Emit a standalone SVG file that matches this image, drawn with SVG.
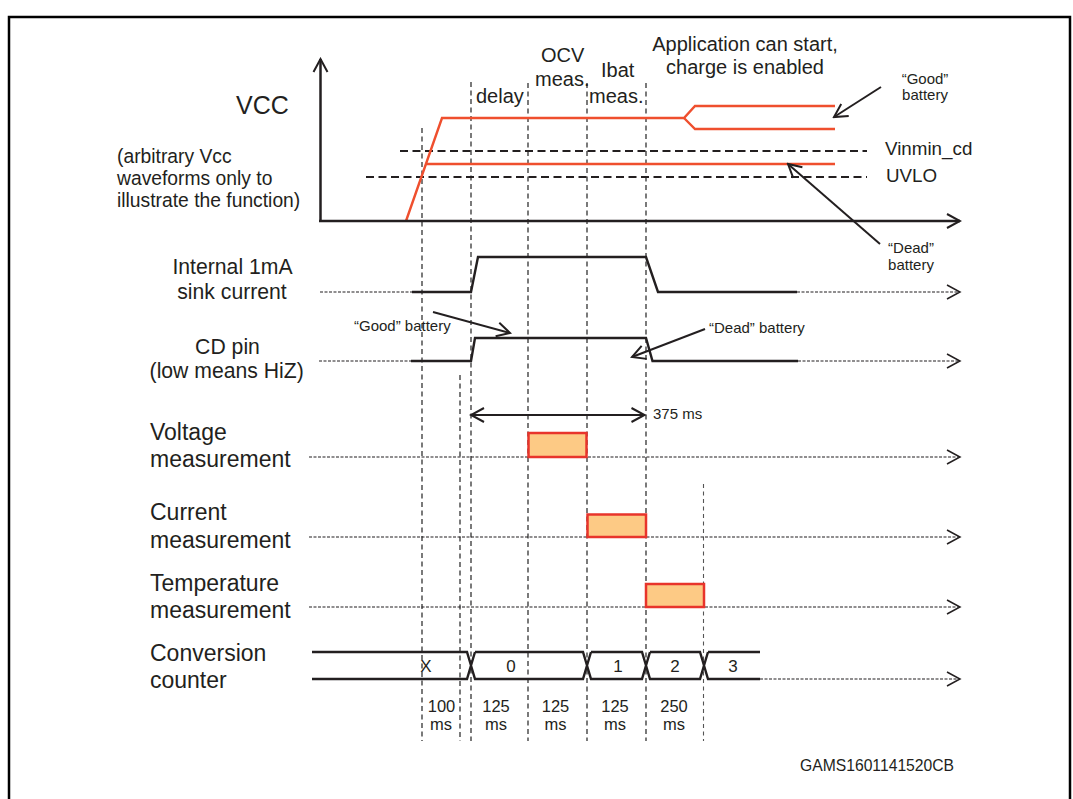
<svg xmlns="http://www.w3.org/2000/svg" width="1073" height="799" viewBox="0 0 1073 799">
<style>
text{font-family:"Liberation Sans",Arial,sans-serif;fill:#231f20}
.t20{font-size:20px}
.t19{font-size:19.3px}
.sm{font-size:15px}
.lbl{font-size:21.2px}
.lbl2{font-size:23px}
.cnt{font-size:17px}
.dur{font-size:16.5px}
.mid{text-anchor:middle}
.wave{fill:none;stroke:#231f20;stroke-width:2.4;stroke-linejoin:miter}
.red{fill:none;stroke:#ef4f2e;stroke-width:2.4}
.thr{fill:none;stroke:#231f20;stroke-width:2;stroke-dasharray:8 4.5}
.tl{fill:none;stroke:#333;stroke-width:1.3;stroke-dasharray:5 3.5}
.tl2{fill:none;stroke:#555;stroke-width:1.1;stroke-dasharray:4 3.5}
.row{fill:none;stroke:#231f20;stroke-width:1.1;stroke-dasharray:3 1.5}
.ann{fill:none;stroke:#231f20;stroke-width:2}
.box{fill:#fdca85;stroke:#e8342b;stroke-width:2.5}
</style>
<defs>
<marker id="ah" viewBox="-16 -9 18 18" refX="0" refY="0" markerWidth="18" markerHeight="18" markerUnits="userSpaceOnUse" orient="auto-start-reverse">
<path d="M-13,-7 L0,0 L-13,7" fill="none" stroke="#231f20" stroke-width="2"/>
</marker>
<marker id="ahs" viewBox="-16 -9 18 18" refX="0" refY="0" markerWidth="18" markerHeight="18" markerUnits="userSpaceOnUse" orient="auto">
<path d="M-13,-7 L0,0 L-13,7" fill="none" stroke="#231f20" stroke-width="1.5"/>
</marker>
</defs>
<rect x="0" y="0" width="1073" height="799" fill="#fff"/>
<rect id="frame" x="9" y="17" width="1061" height="800" fill="none" stroke="#000" stroke-width="2.5"/>

<g id="timelines">
<line class="tl" x1="422" y1="128" x2="422" y2="741"/>
<line class="tl" x1="460" y1="375" x2="460" y2="741"/>
<line class="tl" x1="471" y1="82" x2="471" y2="741"/>
<line class="tl" x1="528" y1="83" x2="528" y2="741"/>
<line class="tl" x1="587" y1="83" x2="587" y2="741"/>
<line class="tl" x1="646" y1="83" x2="646" y2="741"/>
<line class="tl2" x1="703.5" y1="484" x2="703.5" y2="741"/>
</g>

<g id="vcc-chart">
<line class="thr" x1="400" y1="151" x2="867" y2="151"/>
<line class="thr" x1="366" y1="177" x2="867" y2="177"/>
<polyline class="red" points="406,221 442,118 684,118 695,106 835,106"/>
<polyline class="red" points="684,118 695,129 835,129"/>
<polyline class="red" points="426.3,164 835,164"/>
<line stroke="#231f20" stroke-width="2.5" x1="320.5" y1="221" x2="320.5" y2="59" marker-end="url(#ah)"/>
<line stroke="#231f20" stroke-width="2.5" x1="319" y1="221" x2="960" y2="221" marker-end="url(#ah)"/>
</g>

<g id="sink-current">
<line class="row" x1="320" y1="292" x2="412" y2="292"/>
<polyline class="wave" points="412,292 471,292 478,257 646,257 658,292 797,292"/>
<line class="row" x1="797" y1="292" x2="960" y2="292" marker-end="url(#ahs)"/>
</g>

<g id="cd-pin">
<line class="row" x1="319" y1="361" x2="411" y2="361"/>
<polyline class="wave" points="411,361 471,361 475,338 646,338 652.5,361 798,361"/>
<line class="row" x1="798" y1="361" x2="960" y2="361" marker-end="url(#ahs)"/>
</g>

<g id="voltage-meas">
<line class="row" x1="309" y1="457" x2="960" y2="457" marker-end="url(#ahs)"/>
<rect class="box" x="528.5" y="433" width="58" height="24"/>
</g>
<g id="current-meas">
<line class="row" x1="309" y1="537" x2="960" y2="537" marker-end="url(#ahs)"/>
<rect class="box" x="587.5" y="514.5" width="58.5" height="22.5"/>
</g>
<g id="temp-meas">
<line class="row" x1="309" y1="607" x2="960" y2="607" marker-end="url(#ahs)"/>
<rect class="box" x="646" y="584" width="58" height="23"/>
</g>

<g id="conversion-counter">
<path class="wave" d="M312,652 H467 L471,665.5 L467,679 H312 M475,652 L471,665.5 L475,679 H583 L587,665.5 L583,652 H475 M591,652 L587,665.5 L591,679 H642 L646,665.5 L642,652 H591 M650,652 L646,665.5 L650,679 H700 L704,665.5 L700,652 H650 M708,652 L704,665.5 L708,679 H760 M708,652 H760"/>
<line class="row" x1="760" y1="679" x2="960" y2="679" marker-end="url(#ahs)"/>
<text class="cnt mid" x="426" y="672">X</text>
<text class="cnt mid" x="511" y="672">0</text>
<text class="cnt mid" x="618" y="672">1</text>
<text class="cnt mid" x="675" y="672">2</text>
<text class="cnt mid" x="733" y="672">3</text>
</g>

<g id="connectors">
<line class="ann" x1="881" y1="87" x2="834" y2="117" marker-end="url(#ah)"/>
<line class="ann" x1="880" y1="244" x2="788" y2="164" marker-end="url(#ah)"/>
<line class="ann" x1="433" y1="312" x2="510" y2="333" marker-end="url(#ah)"/>
<line class="ann" x1="705" y1="329" x2="632" y2="357" marker-end="url(#ah)"/>
<line class="ann" x1="471" y1="415" x2="644.5" y2="415" marker-start="url(#ah)" marker-end="url(#ah)"/>
</g>

<g id="labels">
<text x="236" y="114" style="font-size:25px">VCC</text>
<text class="t19" x="117" y="163">(arbitrary Vcc</text>
<text class="t19" x="117" y="185">waveforms only to</text>
<text class="t19" x="117" y="207">illustrate the function)</text>
<text class="t20" x="476" y="103">delay</text>
<text class="t20" x="541" y="62">OCV</text>
<text class="t20" x="535" y="86">meas.</text>
<text class="t20" x="601" y="77">Ibat</text>
<text class="t20" x="589" y="103">meas.</text>
<text class="t20 mid" x="745" y="51">Application can start,</text>
<text class="t20 mid" x="745" y="74">charge is enabled</text>
<text x="885" y="155" style="font-size:18.8px">Vinmin_cd</text>
<text x="886" y="182" style="font-size:18.8px">UVLO</text>
<text class="sm mid" x="925" y="84">“Good”</text>
<text class="sm mid" x="925" y="100">battery</text>
<text class="sm mid" x="911" y="253">“Dead”</text>
<text class="sm mid" x="911" y="270">battery</text>
<text class="sm" x="354" y="331">“Good” battery</text>
<text class="sm" x="709" y="333">“Dead” battery</text>
<text class="sm" x="653" y="419">375 ms</text>
<text class="lbl mid" x="232.5" y="274">Internal 1mA</text>
<text class="lbl mid" x="232" y="298.5">sink current</text>
<text class="lbl mid" x="227.5" y="354">CD pin</text>
<text class="lbl mid" x="226.7" y="378">(low means HiZ)</text>
<text class="lbl2" x="150" y="440">Voltage</text>
<text class="lbl2" x="150" y="467">measurement</text>
<text class="lbl2" x="150" y="520">Current</text>
<text class="lbl2" x="150" y="548">measurement</text>
<text class="lbl2" x="150" y="591">Temperature</text>
<text class="lbl2" x="150" y="618">measurement</text>
<text class="lbl2" x="150" y="661">Conversion</text>
<text class="lbl2" x="150" y="688">counter</text>
<text class="dur mid" x="441.5" y="712">100</text>
<text class="dur mid" x="441" y="729.5">ms</text>
<text class="dur mid" x="496" y="712">125</text>
<text class="dur mid" x="496" y="729.5">ms</text>
<text class="dur mid" x="555.5" y="712">125</text>
<text class="dur mid" x="555.5" y="729.5">ms</text>
<text class="dur mid" x="615" y="712">125</text>
<text class="dur mid" x="615" y="729.5">ms</text>
<text class="dur mid" x="674" y="712">250</text>
<text class="dur mid" x="674" y="729.5">ms</text>
<text x="800" y="771" style="font-size:15.7px">GAMS1601141520CB</text>
</g>
</svg>
